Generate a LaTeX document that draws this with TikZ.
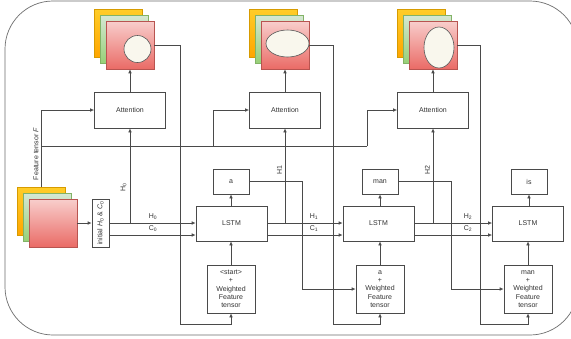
\documentclass[tikz,border=0pt]{standalone}
\usepackage{fontspec}
\setmainfont{Liberation Sans}
\usetikzlibrary{arrows.meta}
\definecolor{lncol}{HTML}{4A4A4A}
\definecolor{oTop}{HTML}{FFCD28}\definecolor{oBot}{HTML}{FFA500}\definecolor{oStr}{HTML}{D79B00}
\definecolor{gTop}{HTML}{D5E8D4}\definecolor{gBot}{HTML}{97D077}\definecolor{gStr}{HTML}{82B366}
\definecolor{rTop}{HTML}{F8CECC}\definecolor{rBot}{HTML}{EA6B66}\definecolor{rStr}{HTML}{B85450}
\definecolor{ellfill}{HTML}{F9F7ED}\definecolor{ellstr}{HTML}{5A5A5A}
\begin{document}
\begin{tikzpicture}[x=1pt,y=-1pt,
  wire/.style={draw=lncol, line width=0.7pt},
  arr/.style={wire, -{Latex[length=4pt,width=3.6pt]}},
  box/.style={draw=lncol, line width=0.7pt, fill=white, inner sep=0pt, align=center,
    font=\fontsize{7}{8.3}\selectfont, text=black!80},
  lstmbox/.style={box, minimum width=71pt, minimum height=35pt},
  attbox/.style={box, minimum width=71pt, minimum height=36pt},
  wordbox/.style={box, minimum width=36pt, minimum height=25pt},
  inbox/.style={box, minimum width=48pt, minimum height=48pt},
  sqo/.style={draw=oStr, top color=oTop, bottom color=oBot, minimum size=48pt, inner sep=0pt, line width=0.5pt},
  sqg/.style={draw=gStr, top color=gTop, bottom color=gBot, minimum size=48pt, inner sep=0pt, line width=0.5pt},
  sqr/.style={draw=rStr, top color=rTop, bottom color=rBot, minimum size=48pt, inner sep=0pt, line width=0.5pt},
  ell/.style={draw=ellstr, fill=ellfill, line width=0.6pt},
  lbl/.style={font=\fontsize{7}{8}\selectfont, text=black!80, inner sep=0.5pt}]
\clip (0,0) rectangle (571,338);
\fill[white] (0,0) rectangle (571,338);
% outer frame
\draw[draw=lncol!80, line width=0.7pt, rounded corners=48pt] (5,1) rectangle (578,335);

% top stacks
\node[sqo] (o1) at (118,33) {};
\node[sqg] (g1) at (124,39) {};
\node[sqr] (r1) at (130,45) {};
\draw[ell] (137.5,49) circle (13.5);
\node[sqo] (o2) at (273,33) {};
\node[sqg] (g2) at (279,39) {};
\node[sqr] (r2) at (285,45) {};
\draw[ell] (287.5,43.5) ellipse (21.5 and 13.5);
\node[sqo] (o3) at (421,33) {};
\node[sqg] (g3) at (427,39) {};
\node[sqr] (r3) at (433,45) {};
\draw[ell] (439,47.5) ellipse (15 and 20.5);

% feature tensor stack
\node[sqo] (fo) at (41,211) {};
\node[sqg] (fg) at (47,217) {};
\node[sqr] (fr) at (53,223) {};

% attention
\node[attbox] (att1) at (130,110) {Attention};
\node[attbox] (att2) at (285,110) {Attention};
\node[attbox] (att3) at (433,110) {Attention};

% init
\node[box, minimum width=17pt, minimum height=48pt] (init) at (100.5,223) {};
\node[lbl, rotate=90] (initlbl) at (init.center) {initial \textit{H}\textsubscript{0} \& \textit{C}\textsubscript{0}};

% LSTMs
\node[lstmbox] (lstm1) at (231.5,223.5) {LSTM};
\node[lstmbox] (lstm2) at (378.5,223.5) {LSTM};
\node[lstmbox] (lstm3) at (528,223.5) {LSTM};

% words
\node[wordbox] (wa) at (231,181.5) {a};
\node[wordbox] (wman) at (380,181.5) {man};
\node[wordbox] (wis) at (529,181.5) {is};

% inputs
\node[inbox] (in1) at (231,289) {<start>\\+\\Weighted\\Feature\\tensor};
\node[inbox] (in2) at (380,289) {a\\+\\Weighted\\Feature\\tensor};
\node[inbox] (in3) at (528,289) {man\\+\\Weighted\\Feature\\tensor};

% attention to maps
\draw[arr] (att1.north) -- (r1.south);
\draw[arr] (att2.north) -- (r2.south);
\draw[arr] (att3.north) -- (r3.south);

% feature tensor to attention
\draw[arr] (fo.north) |- (att1.west);
\node[lbl, rotate=90] (flbl) at (36,154) {Feature tensor \textit{F}};
\coordinate (fs) at (41,146);
\coordinate (k2) at (213,146);
\coordinate (k3) at (367,146);
\draw[wire] (fs) -- (k3);
\draw[arr] (k3) |- (att3.west);
\draw[arr] (k2) |- (att2.west);

% feature to init
\draw[arr] (fr.east) -- (init.west);

% H0 and C0
\coordinate (h0s) at (109,223);
\coordinate (c0s) at (109,235);
\draw[arr] (h0s) -- (lstm1.west |- h0s);
\draw[arr] (c0s) -- (lstm1.west |- c0s);
\node[lbl] (h0) at (153,217) {H\textsubscript{0}};
\node[lbl] (c0) at (153,229) {C\textsubscript{0}};
\draw[arr] (att1.south |- h0s) -- (att1.south);
\node[lbl, rotate=90] (h0v) at (123.5,187) {H\textsubscript{0}};

% H1 and C1
\coordinate (h1s) at (267,223);
\coordinate (c1s) at (267,235);
\draw[arr] (h1s) -- (lstm2.west |- h1s);
\draw[arr] (c1s) -- (lstm2.west |- c1s);
\node[lbl] (h1) at (314,217) {H\textsubscript{1}};
\node[lbl] (c1) at (314,229) {C\textsubscript{1}};
\draw[arr] (att2.south |- h1s) -- (att2.south);
\node[lbl, rotate=90] (h1v) at (279.5,170) {H1};

% H2 and C2
\coordinate (h2s) at (414,223);
\coordinate (c2s) at (414,235);
\draw[arr] (h2s) -- (lstm3.west |- h2s);
\draw[arr] (c2s) -- (lstm3.west |- c2s);
\node[lbl] (h2) at (468,217) {H\textsubscript{2}};
\node[lbl] (c2) at (468,229) {C\textsubscript{2}};
\draw[arr] (att3.south |- h2s) -- (att3.south);
\node[lbl, rotate=90] (h2v) at (427.5,170) {H2};

% LSTM up/down
\draw[arr] (lstm1.north -| wa.south) -- (wa.south);
\draw[arr] (lstm2.north -| wman.south) -- (wman.south);
\draw[arr] (lstm3.north -| wis.south) -- (wis.south);
\draw[arr] (in1.north) -- (lstm1.south -| in1.north);
\draw[arr] (in2.north) -- (lstm2.south -| in2.north);
\draw[arr] (in3.north) -- (lstm3.south -| in3.north);

% words to next inputs
\coordinate (wa1) at (302,181.5);
\draw[arr] (wa.east) -- (wa1) |- (in2.west);
\coordinate (wm1) at (451,181.5);
\draw[arr] (wman.east) -- (wm1) |- (in3.west);

% maps to inputs
\coordinate (d1) at (180,324);
\coordinate (d2) at (333,324);
\coordinate (d3) at (480,324);
\draw[arr] (r1.east) -| (d1) -| (in1.south);
\draw[arr] (r2.east) -| (d2) -| (in2.south);
\draw[arr] (r3.east) -| (d3) -| (in3.south);
\end{tikzpicture}
\end{document}
